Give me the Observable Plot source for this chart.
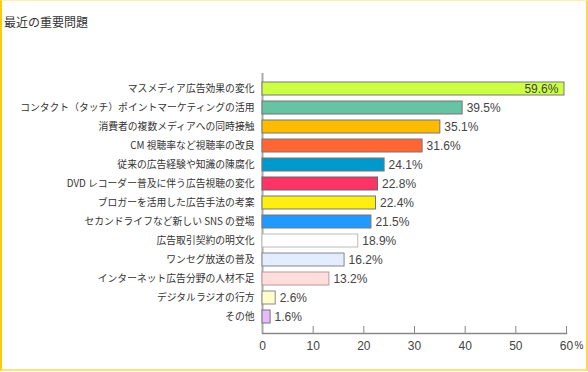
<!DOCTYPE html>
<html><head><meta charset="utf-8">
<script src="https://cdn.jsdelivr.net/npm/d3@7"></script>
<script src="https://cdn.jsdelivr.net/npm/@observablehq/plot@0.6"></script>
<style>
html,body{margin:0;padding:0;background:#fff;}
#wrap{position:relative;width:588px;height:372px;overflow:hidden;}
#title{position:absolute;left:4px;top:14px;font:12px "Noto Sans CJK JP",sans-serif;color:#333;line-height:16px;}
#border{position:absolute;left:0;top:0;width:588px;height:371px;box-sizing:border-box;border-left:2px solid #ffcc00;border-top:1px solid #fff0b0;border-right:2px solid #ffd34d;border-bottom:2px solid #ffe27a;pointer-events:none;}
svg{display:block;}
</style></head>
<body>
<div id="wrap"><div id="chart"></div><div id="title">最近の重要問題</div><div id="border"></div></div>
<script>
const categories = [
  "マスメディア広告効果の変化",
  "コンタクト（タッチ）ポイントマーケティングの活用",
  "消費者の複数メディアへの同時接触",
  "CM 視聴率など視聴率の改良",
  "従来の広告経験や知識の陳腐化",
  "DVD レコーダー普及に伴う広告視聴の変化",
  "ブロガーを活用した広告手法の考案",
  "セカンドライフなど新しい SNS の登場",
  "広告取引契約の明文化",
  "ワンセグ放送の普及",
  "インターネット広告分野の人材不足",
  "デジタルラジオの行方",
  "その他"
];
const values = [59.6, 39.5, 35.1, 31.6, 24.1, 22.8, 22.4, 21.5, 18.9, 16.2, 13.2, 2.6, 1.6];
const xTicks = [0, 10, 20, 30, 40, 50, 60];

const fills = ["#ccff44","#66c3a3","#ffbb00","#ff6633","#0099cc","#ff3366","#ffee11","#2299ff","#ffffff","#e4ecff","#ffdddd","#ffffcc","#e6bbff"];
const strokes = ["#777","#777","#777","#777","#777","#666","#777","#777","#bbb","#888","#bb9999","#888","#777"];

const data = categories.map((c, i) => ({cat: c, v: values[i], fill: fills[i], stroke: strokes[i], inside: i === 0}));

const txtFont = '"Noto Sans CJK JP", sans-serif';
const numFont = '"Liberation Sans", Arial, sans-serif';

const chart = Plot.plot({
  width: 588,
  height: 372,
  marginLeft: 262,
  marginRight: 22,
  marginTop: 73,
  marginBottom: 39,
  style: {fontFamily: numFont, color: "#333", background: "transparent"},
  x: {domain: [0, 60], ticks: xTicks, label: null},
  y: {domain: categories, paddingInner: 0.3, paddingOuter: 0.18, label: null},
  marks: [
    Plot.ruleX([0], {stroke: "#aaa", strokeWidth: 2}),
    Plot.ruleX(xTicks.slice(1), {x: d => d, stroke: "#888", insetTop: 253}),
    Plot.frame({anchor: "bottom", stroke: "#888", strokeWidth: 1.5}),
    Plot.barX(data, {x: "v", y: "cat", fill: "fill", stroke: "stroke", strokeWidth: 1}),
    Plot.text(data.filter(d => !d.inside), {x: "v", y: "cat", text: d => d.v.toFixed(1) + "%", textAnchor: "start", dx: 4, fontSize: 12, fill: "#444", fontFamily: numFont}),
    Plot.text(data.filter(d => d.inside), {x: "v", y: "cat", text: d => d.v.toFixed(1) + "%", textAnchor: "end", dx: -6, fontSize: 12, fill: "#444", fontFamily: numFont}),
    Plot.axisY({tickSize: 0, tickPadding: 8, fontSize: 9.8, fontFamily: txtFont, fill: "#333"}),
    Plot.axisX({ticks: xTicks, tickSize: 0, tickPadding: 8, fontSize: 12, fill: "#444", fontFamily: numFont}),
    Plot.text(["%"], {x: 60, frameAnchor: "bottom", dy: 8, dx: 8, textAnchor: "start", lineAnchor: "top", fontSize: 10, fill: "#333", fontFamily: numFont})
  ]
});
document.getElementById("chart").appendChild(chart);
</script>
</body></html>
